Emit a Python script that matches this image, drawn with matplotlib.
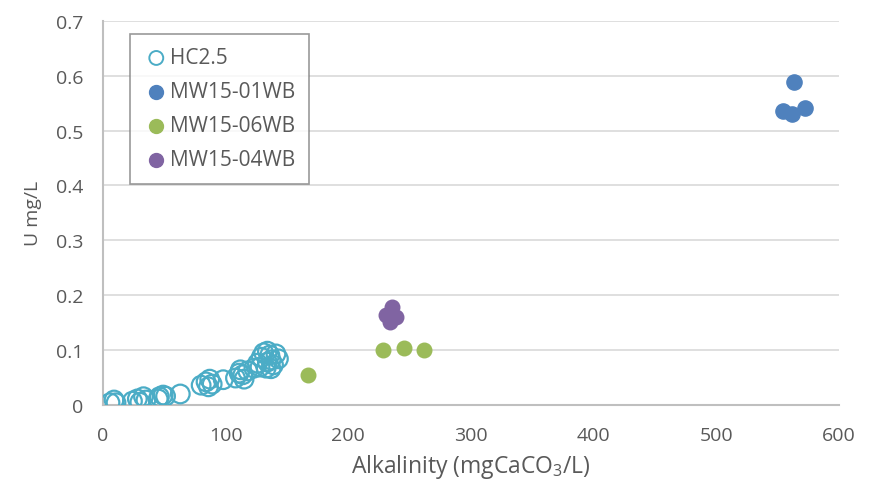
import matplotlib
matplotlib.use('Agg')
import matplotlib.pyplot as plt

plt.rcParams['font.family'] = ['Open Sans', 'DejaVu Sans']
plt.rcParams['mathtext.fontset'] = 'custom'
plt.rcParams['mathtext.rm'] = 'Open Sans'

# HC2.5 (open circles)
hc_x = [5.7, 9, 10.6, 24, 28, 30, 33, 35, 45, 46, 49, 51, 63,
        80, 84, 86, 87, 89, 98,
        108, 111, 112, 114, 115, 118, 123,
        126, 128, 129, 131, 133, 134, 134, 136, 137, 137, 139, 141, 143]
hc_y = [0.004, 0.009, 0.004, 0.007, 0.011, 0.005, 0.015, 0.009, 0.011, 0.015, 0.018, 0.016, 0.020,
        0.036, 0.042, 0.033, 0.047, 0.038, 0.046,
        0.049, 0.058, 0.064, 0.055, 0.047, 0.062, 0.067,
        0.076, 0.069, 0.087, 0.095, 0.067, 0.098, 0.078, 0.091, 0.082, 0.066, 0.073, 0.093, 0.084]

mw01_x = [554, 562, 563, 572]
mw01_y = [0.535, 0.530, 0.589, 0.542]

mw06_x = [167, 228, 245, 262]
mw06_y = [0.055, 0.100, 0.104, 0.100]

mw04_x = [231, 236, 239, 234]
mw04_y = [0.164, 0.178, 0.160, 0.151]

fig = plt.figure(figsize=(8.73, 4.85), dpi=100)
ax = fig.add_axes([0.118, 0.163, 0.843, 0.792])

ax.scatter(hc_x, hc_y, s=180, facecolors='none', edgecolors='#4BACC6', linewidths=1.6, label='HC2.5', zorder=3)
ax.scatter(mw01_x, mw01_y, s=120, color='#4F81BD', label='MW15-01WB', zorder=3)
ax.scatter(mw06_x, mw06_y, s=110, color='#9BBB59', label='MW15-06WB', zorder=3)
ax.scatter(mw04_x, mw04_y, s=110, color='#8064A2', label='MW15-04WB', zorder=3)

ax.set_xlim(0, 600)
ax.set_ylim(0, 0.7)
ax.set_xticks(range(0, 601, 100))
ax.set_yticks([0, 0.1, 0.2, 0.3, 0.4, 0.5, 0.6, 0.7])
ax.set_yticklabels(['0', '0.1', '0.2', '0.3', '0.4', '0.5', '0.6', '0.7'])
ax.yaxis.grid(True, color='#D9D9D9', linewidth=1.2)
ax.set_axisbelow(True)
for s in ['top', 'right']:
    ax.spines[s].set_visible(False)
for s in ['left', 'bottom']:
    ax.spines[s].set_color('#BFBFBF')
    ax.spines[s].set_linewidth(1.5)
ax.tick_params(length=0, labelsize=14, colors='#595959')
ax.tick_params(axis='x', pad=15)
ax.tick_params(axis='y', pad=14)

ax.set_xlabel('Alkalinity (mgCaCO$_3$/L)', fontsize=16.5, color='#595959', labelpad=6)
ax.set_ylabel('U mg/L', fontsize=14, color='#595959', labelpad=10)

leg = ax.legend(loc='upper left', bbox_to_anchor=(0.037, 0.966), borderaxespad=0,
                fancybox=False, edgecolor='#808080', fontsize=15, labelspacing=0.62,
                handletextpad=0.05, borderpad=0.65, handlelength=1.2)
for h in leg.legend_handles:
    h.set_sizes([100])
leg.legend_handles[0].set_linewidth(1.4)
for t in leg.get_texts():
    t.set_color('#595959')
leg.get_frame().set_linewidth(1.2)

fig.savefig('out.png', dpi=100)
